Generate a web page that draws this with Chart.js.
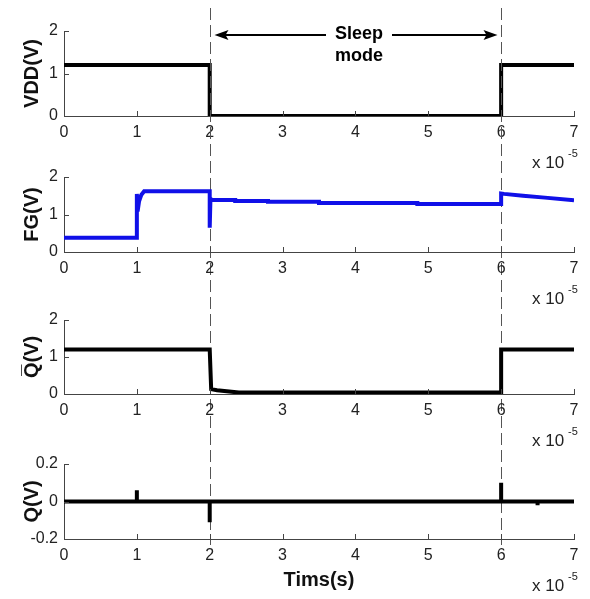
<!DOCTYPE html>
<html>
<head>
<meta charset="utf-8">
<script src="https://cdn.jsdelivr.net/npm/chart.js@4"></script>
<style>
  html, body { margin: 0; padding: 0; background: #fff; }
  #wrap { position: relative; width: 590px; height: 599px; }
  #wrap canvas { position: absolute; left: 0; top: 0; }
</style>
</head>
<body>
<div id="wrap">
  <canvas id="vddChart" width="590" height="599"></canvas>
  <canvas id="fgChart" width="590" height="599"></canvas>
  <canvas id="qbChart" width="590" height="599"></canvas>
  <canvas id="qChart" width="590" height="599"></canvas>
</div>
<script>
// tiempos en unidades de 1e-5 s
var xTicks = [0, 1, 2, 3, 4, 5, 6, 7];
var sleepStart = 2, sleepEnd = 6;

// VDD
var tVdd = [0, 2, 2, 6, 6, 7];
var vdd = [1.2, 1.2, 0, 0, 1.2, 1.2];

// FG (nodo flotante)
var tFg = [0, 1, 1, 1.01, 1.03, 1.06, 1.1, 2, 2, 2.01, 2.03, 2.35, 2.35, 2.8, 2.8, 3.5, 3.5, 4.85, 4.85, 6, 6, 6.04, 6.3, 6.6, 7];
var fg = [0.38, 0.38, 1.55, 1.08, 1.35, 1.52, 1.62, 1.62, 0.65, 1.42, 1.39, 1.39, 1.36, 1.36, 1.34, 1.34, 1.31, 1.31, 1.28, 1.28, 1.56, 1.55, 1.5, 1.45, 1.38];

// Q barra
var tQb = [0, 2, 2.02, 2.1, 2.4, 6, 6, 7];
var qb = [1.2, 1.2, 0.13, 0.1, 0.04, 0.04, 1.2, 1.2];

// Q
var tQ = [0, 1, 1, 1, 1, 2, 2, 2, 6, 6, 6, 6.5, 6.5, 6.5, 7];
var q = [0, 0, 0.06, -0.01, 0, 0, -0.11, 0, 0, 0.1, 0, 0, -0.02, 0, 0];

var toXY = function(xs, ys) {
    return xs.map(function(x, i) { return { x: x, y: ys[i] }; });
};

var fuente = '"Liberation Sans", Arial, sans-serif';

// ticks hacia adentro + etiqueta "x 10^-5"
var decorPlugin = {
    id: 'decor',
    afterDraw: function(chart) {
        var ctx = chart.ctx, a = chart.chartArea;
        var sx = chart.scales.x, sy = chart.scales.y;
        ctx.save();
        ctx.strokeStyle = '#444';
        ctx.lineWidth = 1;
        sx.ticks.forEach(function(t) {
            var px = Math.round(sx.getPixelForValue(t.value)) + 0.5;
            ctx.beginPath(); ctx.moveTo(px, a.bottom); ctx.lineTo(px, a.bottom - 5); ctx.stroke();
        });
        sy.ticks.forEach(function(t) {
            var py = Math.round(sy.getPixelForValue(t.value)) + 0.5;
            ctx.beginPath(); ctx.moveTo(a.left, py); ctx.lineTo(a.left + 5, py); ctx.stroke();
        });
        ctx.fillStyle = '#222';
        ctx.textBaseline = 'middle';
        ctx.textAlign = 'left';
        ctx.font = '17px ' + fuente;
        ctx.fillText('x 10', 532, a.bottom + 47);
        ctx.font = '11px ' + fuente;
        ctx.fillText('-5', 568, a.bottom + 38);
        ctx.restore();
    }
};

// líneas punteadas y flechas de "Sleep mode"
var sleepPlugin = {
    id: 'sleep',
    afterDraw: function(chart) {
        var ctx = chart.ctx, sx = chart.scales.x;
        var x1 = Math.round(sx.getPixelForValue(sleepStart)) + 0.5;
        var x2 = Math.round(sx.getPixelForValue(sleepEnd)) + 0.5;
        ctx.save();
        ctx.strokeStyle = '#555';
        ctx.lineWidth = 1;
        ctx.setLineDash([12, 5]);
        [x1, x2].forEach(function(x) {
            ctx.beginPath(); ctx.moveTo(x, 8); ctx.lineTo(x, 545); ctx.stroke();
        });
        ctx.setLineDash([]);
        var ay = 35, mid = (x1 + x2) / 2;
        ctx.strokeStyle = '#000';
        ctx.fillStyle = '#000';
        ctx.lineWidth = 2;
        ctx.beginPath(); ctx.moveTo(x1 + 12, ay); ctx.lineTo(mid - 30, ay); ctx.stroke();
        ctx.beginPath(); ctx.moveTo(mid + 36, ay); ctx.lineTo(x2 - 12, ay); ctx.stroke();
        ctx.beginPath(); ctx.moveTo(x1 + 4, ay); ctx.lineTo(x1 + 18, ay - 5); ctx.lineTo(x1 + 15, ay); ctx.lineTo(x1 + 18, ay + 5); ctx.closePath(); ctx.fill();
        ctx.beginPath(); ctx.moveTo(x2 - 4, ay); ctx.lineTo(x2 - 18, ay - 5); ctx.lineTo(x2 - 15, ay); ctx.lineTo(x2 - 18, ay + 5); ctx.closePath(); ctx.fill();
        ctx.font = 'bold 18px ' + fuente;
        ctx.textAlign = 'center';
        ctx.textBaseline = 'middle';
        ctx.fillText('Sleep', mid + 3, 34);
        ctx.fillText('mode', mid + 3, 56);
        ctx.restore();
    }
};

function makePanel(id, data, color, yLabel, yMin, yMax, yStep, top, bottom, xTitle) {
    var xh = xTitle ? 60 : 40;
    var ctx = document.getElementById(id).getContext('2d');
    return new Chart(ctx, {
        type: 'scatter',
        data: {
            datasets: [{
                data: data,
                showLine: true,
                borderColor: color,
                borderWidth: 4,
                pointRadius: 0,
                tension: 0
            }]
        },
        options: {
            responsive: false,
            animation: false,
            devicePixelRatio: 1,
            events: [],
            layout: { padding: { top: top, left: 0, right: 16, bottom: 599 - bottom - xh } },
            plugins: { legend: { display: false }, tooltip: { enabled: false } },
            scales: {
                x: {
                    type: 'linear', min: 0, max: 7,
                    afterFit: function(s) { s.height = xh; },
                    afterBuildTicks: function(s) { s.ticks = xTicks.map(function(v) { return { value: v }; }); },
                    grid: { display: false, drawTicks: false },
                    border: { display: true, color: '#444', width: 1 },
                    ticks: { color: '#222', padding: 7, maxRotation: 0, font: { family: fuente, size: 16 } },
                    title: {
                        display: !!xTitle, text: xTitle || '', color: '#111',
                        padding: { top: 0, bottom: 7 },
                        font: { family: fuente, size: 20, weight: 'bold' }
                    }
                },
                y: {
                    min: yMin, max: yMax,
                    afterFit: function(s) { s.width = 64; },
                    grid: { display: false, drawTicks: false },
                    border: { display: true, color: '#444', width: 1 },
                    ticks: {
                        stepSize: yStep, color: '#222', padding: 6,
                        font: { family: fuente, size: 16 },
                        callback: function(v) { return Math.abs(v) < 1e-9 ? '0' : String(Math.round(v * 10) / 10); }
                    },
                    title: {
                        display: true, text: yLabel, color: '#111',
                        padding: { top: 20, bottom: 0 },
                        font: { family: fuente, size: 20, weight: 'bold' }
                    }
                }
            }
        },
        plugins: id === 'vddChart' ? [decorPlugin, sleepPlugin] : [decorPlugin]
    });
}

document.addEventListener("DOMContentLoaded", function() {
    makePanel('vddChart', toXY(tVdd, vdd), '#000', 'VDD(V)', 0, 2, 1, 31, 116);
    makePanel('fgChart', toXY(tFg, fg), '#1010e8', 'FG(V)', 0, 2, 1, 177, 252);
    makePanel('qbChart', toXY(tQb, qb), '#000', 'Q\u0305(V)', 0, 2, 1, 320, 394);
    makePanel('qChart', toXY(tQ, q), '#000', 'Q(V)', -0.2, 0.2, 0.2, 464, 539, 'Tims(s)');
});
</script>
</body>
</html>
